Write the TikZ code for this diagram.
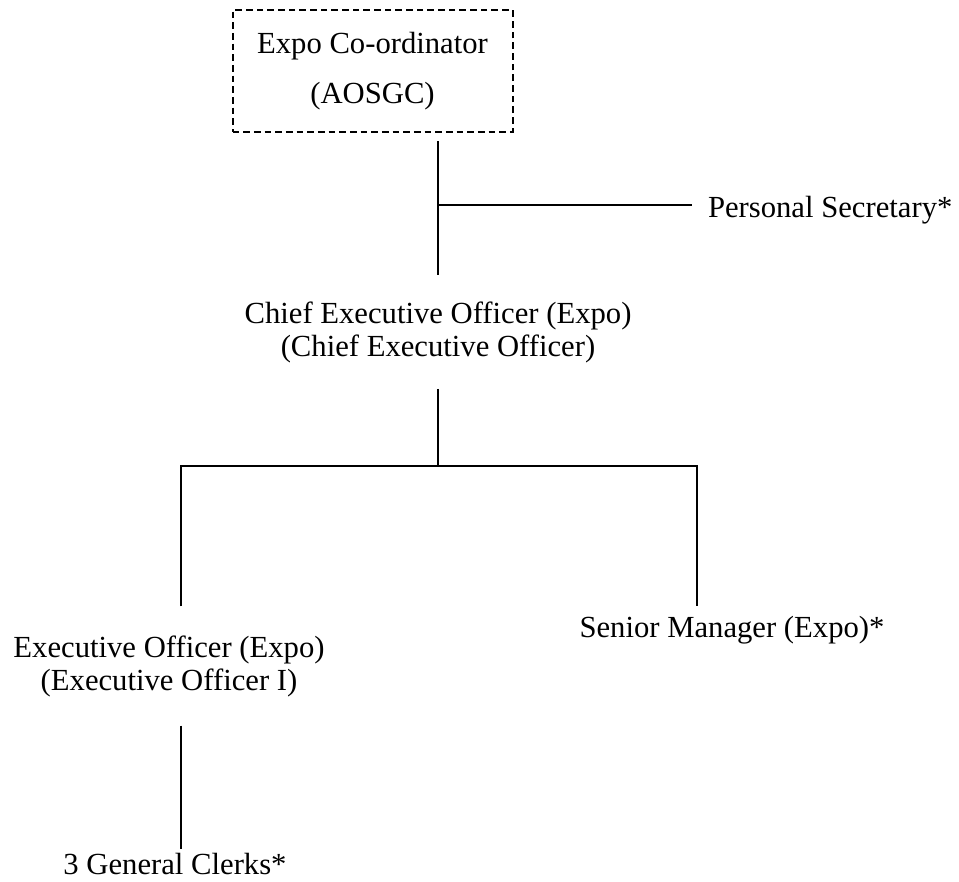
\documentclass[tikz,border=0pt]{standalone}
\usepackage{fontspec}
\setmainfont{Liberation Serif}
\usetikzlibrary{positioning}

\begin{document}
\begin{tikzpicture}[x=0.75pt, y=-0.75pt,
    line width=1.5pt,
    post/.style={align=center, inner xsep=0pt, inner ysep=19pt,
                 font=\fontsize{23}{24.75}\selectfont},
    dashbox/.style={post, draw, dash pattern=on 5pt off 3pt, inner ysep=4pt,
                    minimum width=210pt, minimum height=91pt}]

  \useasboundingbox (0,0) rectangle (959,881);

  % top box and secretary branch
  \node[dashbox] (expo) at (372.5,71) {Expo Co-ordinator\\[12.75pt](AOSGC)};
  \coordinate (stem) at (438,141);
  \coordinate (sb) at (438,205);
  \node[post, anchor=base west, inner xsep=11.25pt, inner ysep=0pt] (sec) at (692,217) {Personal Secretary*};

  \node[post] (ceo) at (438,332) {Chief Executive Officer (Expo)\\(Chief Executive Officer)};
  \coordinate (bus) at (438,466);

  % second level
  \node[post, inner ysep=21pt] (exec) at (169,666) {Executive Officer (Expo)\\(Executive Officer I)};
  \node[post, anchor=base, inner ysep=6.75pt] (mgr) at (732,637) {Senior Manager (Expo)*};
  \node[post, anchor=base, inner ysep=2pt] (clerks) at (175,874) {3 General Clerks*};

  \draw (stem) -- (ceo);
  \draw (sb) -- (sb -| sec.west);
  \draw (ceo) -- (bus);
  \draw ([xshift=9pt]exec.north) |- (bus);
  \draw ([xshift=-26.25pt]mgr.north) |- (bus);
  \draw ([xshift=9pt]exec.south) -- ([xshift=4.5pt]clerks.north);
\end{tikzpicture}
\end{document}
